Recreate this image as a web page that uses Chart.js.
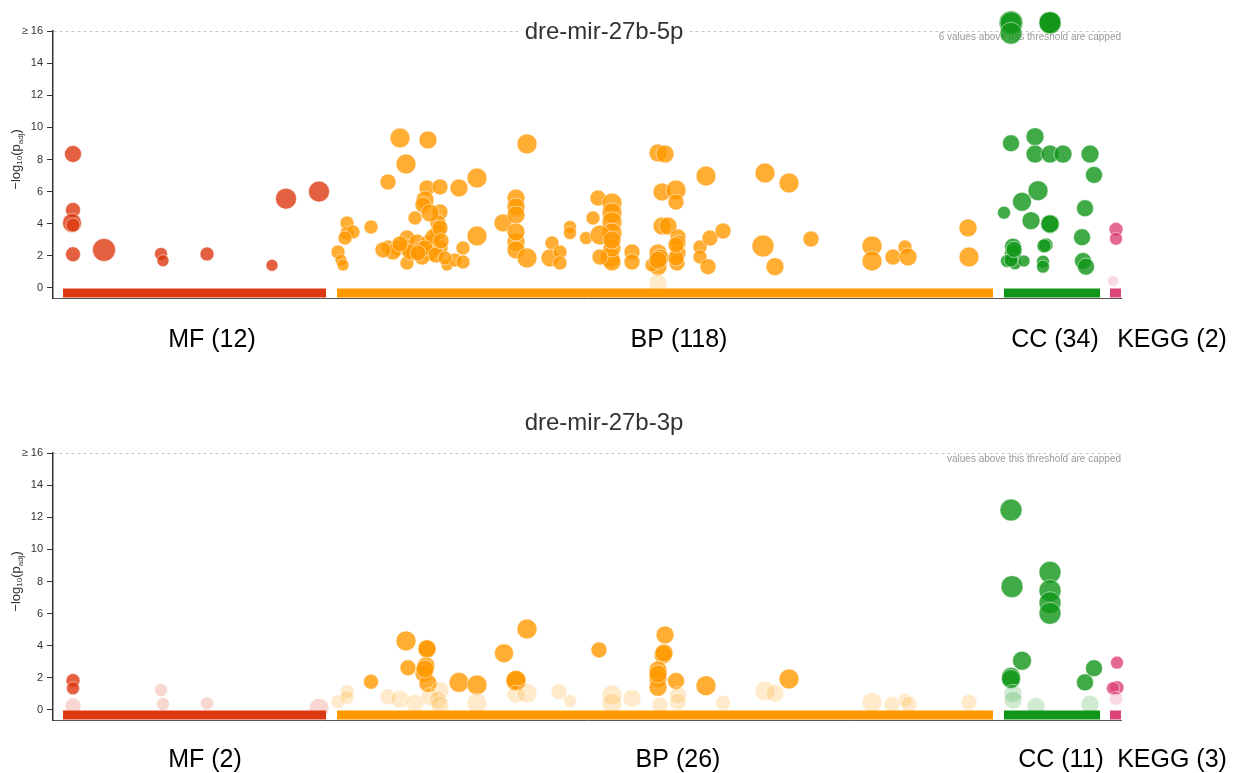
<!DOCTYPE html>
<html>
<head>
<meta charset="utf-8">
<script src="https://cdn.jsdelivr.net/npm/chart.js@4/dist/chart.umd.min.js"></script>
<style>
  html, body { margin: 0; padding: 0; background: #fff; }
  #wrap { position: relative; width: 1235px; height: 773px; }
  canvas { position: absolute; left: 0; }
</style>
</head>
<body>
<div id="wrap">
  <canvas id="c5p" width="1235" height="386" style="top:0px"></canvas>
  <canvas id="c3p" width="1235" height="387" style="top:386px"></canvas>
</div>
<script>
// ---- data -------------------------------------------------------------
const categories = ['MF', 'BP', 'CC', 'KEGG'];
// term position range of each source along the x axis
const categorySpans = [[10, 273], [284, 940], [951, 1047], [1057, 1068]];
const yTicks = [0, 2, 4, 6, 8, 10, 12, 14, 16];
const countsTop = [12, 118, 34, 2];
const countsBottom = [2, 26, 11, 3];

// each term: [position, -log10(p_adj), bubble radius]
const mir5pMF = [
  [20, 8.34, 8.5], [20, 4.86, 7.5], [19, 4.05, 9.5], [20, 3.92, 7], [20, 2.10, 7.5],
  [51, 2.37, 11.5], [108, 2.12, 6.5], [110, 1.70, 6], [154, 2.12, 7], [219, 1.41, 6],
  [233, 5.56, 10.5], [266, 6.00, 10.5]
];
const mir5pBP = [
  [285, 2.24, 7], [288, 1.74, 6], [290, 1.43, 6], [294, 4.05, 7], [294, 3.42, 7],
  [300, 3.49, 7], [318, 3.80, 7], [335, 6.60, 8], [347, 9.34, 10], [375, 9.22, 9],
  [353, 7.72, 10], [335, 2.55, 7], [344, 2.49, 8], [354, 3.11, 8], [354, 2.55, 8],
  [364, 2.86, 8], [367, 2.37, 8], [375, 2.80, 8], [387, 2.49, 8], [354, 1.56, 7],
  [360, 2.18, 7], [394, 1.43, 6], [402, 1.74, 7], [410, 2.49, 7], [410, 1.62, 7],
  [362, 4.36, 7], [374, 6.23, 8], [372, 5.48, 9], [370, 5.17, 8], [387, 6.29, 8],
  [387, 4.73, 8], [385, 4.05, 8], [385, 3.49, 8], [406, 6.23, 9], [424, 6.85, 10],
  [424, 3.24, 10], [377, 2.18, 8], [369, 1.93, 8], [340, 2.24, 8], [380, 3.18, 8],
  [450, 4.05, 9], [463, 5.60, 9], [463, 5.04, 9], [463, 4.55, 9], [463, 2.86, 9],
  [463, 2.37, 9], [474, 8.97, 10], [474, 1.87, 10], [499, 2.80, 7], [497, 1.87, 9],
  [507, 2.24, 7], [507, 1.56, 7], [517, 3.80, 6.5], [517, 3.42, 6.5], [533, 3.11, 6.5],
  [540, 4.36, 7], [545, 5.60, 8], [559, 5.29, 10], [559, 4.67, 10], [559, 4.11, 10],
  [559, 3.42, 10], [547, 3.30, 10], [557, 1.87, 10], [559, 1.62, 9], [579, 2.24, 8],
  [579, 1.62, 8], [605, 8.41, 9], [612, 8.34, 9], [609, 5.98, 9], [623, 6.10, 10],
  [623, 5.35, 8], [609, 3.86, 9], [615, 3.86, 9], [625, 3.18, 8], [625, 2.80, 8],
  [625, 2.18, 8], [624, 1.56, 8], [605, 2.18, 9], [605, 1.33, 9], [599, 1.43, 7],
  [607, 1.87, 9], [605, 0.31, 9], [647, 2.55, 7], [647, 1.93, 7], [655, 1.33, 8],
  [657, 3.11, 8], [670, 3.55, 8], [653, 6.97, 10], [712, 7.16, 10], [736, 6.54, 10],
  [710, 2.62, 11], [722, 1.33, 9], [758, 3.05, 8], [819, 2.62, 10], [819, 1.68, 10],
  [840, 1.93, 8], [852, 2.55, 7], [855, 1.93, 9], [915, 3.74, 9], [916, 1.93, 10],
  [330, 2.37, 8], [357, 2.24, 8], [372, 2.49, 8], [383, 2.05, 8], [347, 2.74, 8],
  [377, 4.67, 9], [387, 3.74, 8], [365, 2.18, 8], [559, 2.49, 9], [605, 1.74, 9],
  [623, 1.87, 8], [463, 3.49, 9], [559, 2.99, 9], [292, 3.11, 7], [388, 2.93, 8],
  [392, 1.87, 7], [547, 1.93, 8], [623, 2.68, 8]
];
const mir5pCC = [
  [958, 16.52, 12], [958, 16.52, 11], [958, 15.86, 11], [997, 16.52, 11], [997, 16.52, 11],
  [997, 16.52, 11], [958, 9.01, 8.5], [982, 9.42, 9], [982, 8.34, 9], [997, 8.34, 9],
  [1010, 8.34, 9], [1037, 8.34, 9], [1041, 7.04, 8.5], [985, 6.06, 10], [969, 5.37, 9.5],
  [951, 4.69, 6.5], [978, 4.19, 9], [997, 3.99, 9.5], [997, 3.99, 9], [1032, 4.96, 8.5],
  [1029, 3.16, 8.5], [960, 2.57, 8.5], [960, 2.16, 8.5], [954, 1.68, 6.5], [962, 1.54, 6.5],
  [971, 1.68, 6], [993, 2.68, 7], [991, 2.62, 7], [990, 1.64, 6.5], [990, 1.33, 6.5],
  [1030, 1.68, 8.5], [1033, 1.33, 8.5], [958, 1.74, 7], [961, 2.40, 8]
];
const mir5pKEGG = [[1063, 3.65, 7], [1063, 3.07, 6.5], [1060, 0.44, 5.5]];

const mir3pMF = [
  [20, 1.83, 7], [20, 1.35, 6.5], [20, 0.25, 8], [108, 1.25, 6.5], [110, 0.37, 6.5],
  [154, 0.42, 6.5], [266, 0.10, 10]
];
const mir3pBP = [
  [318, 1.76, 7.5], [353, 4.30, 10], [355, 2.63, 8], [374, 3.78, 9], [373, 2.74, 9],
  [371, 2.28, 9], [375, 1.66, 9], [406, 1.72, 10], [424, 1.56, 10], [451, 3.53, 9.5],
  [474, 5.04, 10], [463, 1.81, 10], [463, 1.85, 10], [546, 3.74, 8], [612, 4.67, 9],
  [610, 3.42, 9], [605, 2.49, 9], [605, 1.97, 9], [605, 1.41, 9], [623, 1.81, 8.5],
  [653, 1.51, 10], [736, 1.93, 10], [605, 2.24, 9], [611, 3.55, 9], [374, 3.82, 9],
  [372, 2.55, 9],
  [285, 0.52, 7], [294, 1.14, 7], [294, 0.79, 7], [335, 0.83, 8], [347, 0.67, 9],
  [362, 0.42, 9], [387, 1.22, 9], [377, 0.83, 9], [385, 0.62, 9], [387, 0.31, 9],
  [424, 0.42, 10], [463, 0.98, 9], [474, 1.04, 10], [506, 1.14, 8], [517, 0.56, 6.5],
  [559, 0.93, 10], [559, 0.42, 10], [579, 0.73, 9], [607, 0.31, 8], [625, 0.93, 8.5],
  [625, 0.52, 8.5], [670, 0.45, 7.5], [712, 1.18, 10], [722, 1.04, 9], [819, 0.48, 10],
  [839, 0.35, 8], [852, 0.62, 7], [856, 0.35, 8], [916, 0.48, 8]
];
const mir3pCC = [
  [958, 12.45, 11], [959, 7.68, 11], [997, 8.57, 11], [997, 7.43, 11], [997, 6.68, 11],
  [997, 6.02, 11], [969, 3.07, 9.5], [958, 2.07, 9.5], [958, 1.93, 9.5], [1032, 1.72, 8.5],
  [1041, 2.60, 8.5],
  [960, 1.04, 9], [960, 0.62, 9], [983, 0.21, 9], [1037, 0.35, 9]
];
const mir3pKEGG = [[1064, 2.95, 6.5], [1064, 1.39, 7], [1060, 1.35, 6.5], [1063, 0.73, 7]];

// ---- styling ----------------------------------------------------------
const FONT = '"Liberation Sans", Arial, Helvetica, sans-serif';
const sourceRgb = [[220, 57, 18], [255, 153, 0], [16, 150, 24], [221, 68, 119]];
const SIGNIFICANCE = -Math.log10(0.05);
const CAP = 16;
const Y_MIN = -0.623;
const BAR_LEVEL = -0.31;
Chart.defaults.font.family = FONT;

const rgba = (c, a) => `rgba(${c[0]},${c[1]},${c[2]},${a})`;

const panels = [
  {
    canvas: 'c5p', title: 'dre-mir-27b-5p', note: '6 values above this threshold are capped',
    counts: countsTop, points: [mir5pMF, mir5pBP, mir5pCC, mir5pKEGG],
    labelX: [159, 626, 1002, 1119], padTop: 31, axisH: 88, labelPad: 27, titleBase: 39
  },
  {
    canvas: 'c3p', title: 'dre-mir-27b-3p', note: 'values above this threshold are capped',
    counts: countsBottom, points: [mir3pMF, mir3pBP, mir3pCC, mir3pKEGG],
    labelX: [152, 625, 1008, 1119], padTop: 67, axisH: 53, labelPad: 25, titleBase: 44
  }
];

// title, cap note and y-axis caption with subscripts
const panelDecor = {
  id: 'panelDecor',
  beforeDatasetsDraw(chart, args, opts) {
    const { ctx, chartArea } = chart;
    const y = chart.scales.y;
    const cx = 604;
    ctx.save();
    ctx.font = `24px ${FONT}`;
    const w = ctx.measureText(opts.title).width;
    ctx.fillStyle = '#fff';
    ctx.fillRect(cx - w / 2 - 6, opts.titleBase - 22, w + 12, 30);
    ctx.fillStyle = '#333';
    ctx.textAlign = 'center';
    ctx.textBaseline = 'alphabetic';
    ctx.fillText(opts.title, cx, opts.titleBase);

    ctx.font = `10px ${FONT}`;
    ctx.fillStyle = '#999';
    ctx.textAlign = 'right';
    ctx.textBaseline = 'middle';
    ctx.fillText(opts.note, chartArea.right, y.getPixelForValue(CAP) + 6);

    const parts = [['\u2212log', 13, 0], ['10', 8, 2], ['(p', 13, 0], ['adj', 8, 3], [')', 13, 0]];
    ctx.translate(20, y.getPixelForValue(8));
    ctx.rotate(-Math.PI / 2);
    let total = 0;
    parts.forEach(p => { ctx.font = `${p[1]}px ${FONT}`; total += ctx.measureText(p[0]).width; });
    let px = -total / 2;
    ctx.fillStyle = '#333';
    ctx.textAlign = 'left';
    ctx.textBaseline = 'alphabetic';
    parts.forEach(p => {
      ctx.font = `${p[1]}px ${FONT}`;
      ctx.fillText(p[0], px, p[2]);
      px += ctx.measureText(p[0]).width;
    });
    ctx.restore();
  }
};

function buildPanel(panel) {
  const datasets = [];
  categories.forEach((cat, i) => {
    const [x0, x1] = categorySpans[i];
    datasets.push({
      type: 'line',
      data: [{ x: x0, y: BAR_LEVEL }, { x: x1, y: BAR_LEVEL }],
      borderColor: rgba(sourceRgb[i], 1),
      borderWidth: 9,
      borderCapStyle: 'butt',
      pointRadius: 0,
      fill: false,
      clip: false
    });
  });
  categories.forEach((cat, i) => {
    datasets.push({
      type: 'bubble',
      data: panel.points[i].map(([x, y, r]) => ({ x, y, r })),
      backgroundColor: c => rgba(sourceRgb[i], c.raw && c.raw.y > SIGNIFICANCE ? 0.8 : 0.2),
      borderColor: 'rgba(255,255,255,0.5)',
      borderWidth: 1,
      clip: false
    });
  });
  const labels = categories.map((c, i) => `${c} (${panel.counts[i]})`);

  new Chart(document.getElementById(panel.canvas), {
    data: { datasets },
    plugins: [panelDecor],
    options: {
      responsive: false,
      animation: false,
      events: [],
      devicePixelRatio: 1,
      layout: { padding: { top: panel.padTop, right: 114, left: 0, bottom: 0 } },
      plugins: {
        legend: { display: false },
        tooltip: { enabled: false },
        panelDecor: { title: panel.title, note: panel.note, titleBase: panel.titleBase }
      },
      scales: {
        x: {
          type: 'linear', min: 0, max: 1068,
          grid: { display: false, drawTicks: false },
          border: { display: true, color: '#555', width: 1 },
          afterBuildTicks: s => { s.ticks = panel.labelX.map(v => ({ value: v })); },
          afterFit: s => { s.height = panel.axisH; s.paddingLeft = 0; s.paddingRight = 0; },
          ticks: {
            autoSkip: false, maxRotation: 0, minRotation: 0,
            padding: panel.labelPad, color: '#000', font: { size: 25 },
            callback: (v, i) => labels[i]
          }
        },
        y: {
          type: 'linear', min: Y_MIN, max: CAP,
          afterBuildTicks: s => { s.ticks = yTicks.map(v => ({ value: v })); },
          afterFit: s => { s.width = 53; s.paddingTop = 0; s.paddingBottom = 0; },
          grid: {
            color: c => (c.tick && c.tick.value === CAP ? '#c8c8c8' : 'rgba(0,0,0,0)'),
            lineWidth: 1, tickColor: '#333', tickLength: 6, tickWidth: 1, tickBorderDash: []
          },
          border: { display: true, color: '#333', width: 1.5, dash: [3, 3] },
          ticks: {
            padding: 4, color: '#333', font: { size: 11 },
            callback: v => (v === CAP ? '\u2265 16' : String(v))
          }
        }
      }
    }
  });
}

panels.forEach(buildPanel);
</script>
</body>
</html>
